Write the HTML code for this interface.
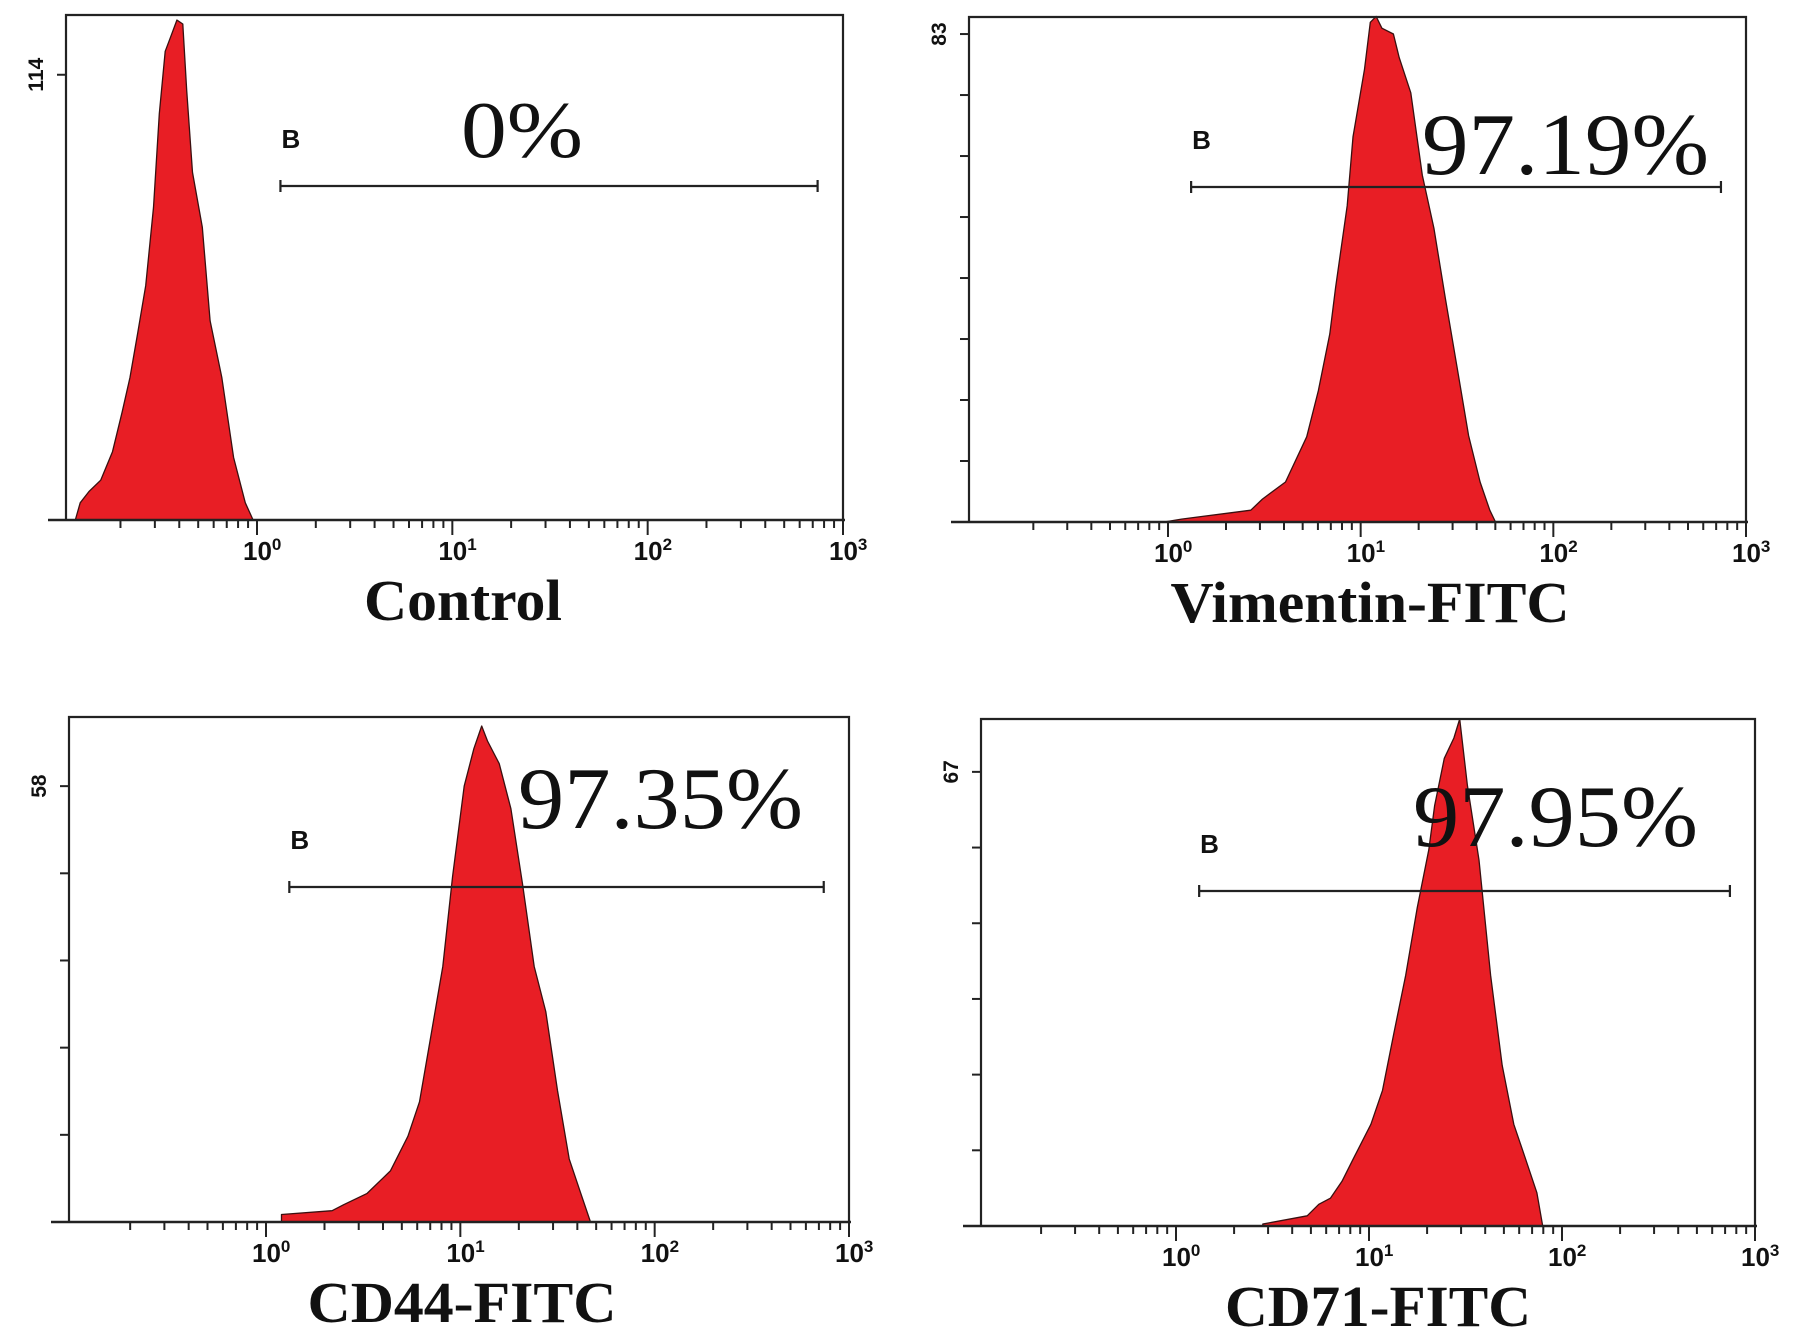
<!DOCTYPE html>
<html><head><meta charset="utf-8"><style>
html,body{margin:0;padding:0;background:#fff;}
svg{display:block;}
</style></head><body>
<svg id="fig" width="1795" height="1333" viewBox="0 0 1795 1333" xmlns="http://www.w3.org/2000/svg"></svg>
<script>
// Panel 1: Control
const controlLog = [-0.93,-0.905,-0.86,-0.80,-0.74,-0.69,-0.65,-0.61,-0.57,-0.53,-0.50,-0.47,-0.44,-0.41,-0.38,-0.36,-0.33,-0.28,-0.24,-0.18,-0.12,-0.06,-0.02];
const controlCounts = [0,4.4,7.3,10.2,17.5,27.7,36.5,48,60,80,104,120,124,128,127,110,89,75,51,36.5,16,4.4,0];
// Panel 2: Vimentin-FITC
const vimLog = [-0.02,0.07,0.19,0.31,0.43,0.49,0.61,0.72,0.78,0.84,0.87,0.93,0.96,1.02,1.05,1.08,1.11,1.17,1.20,1.26,1.32,1.38,1.44,1.50,1.56,1.62,1.67,1.70];
const vimCounts = [0,0.5,1,1.5,2,3.9,6.8,14.5,22.3,32,39.9,53.8,65.5,77,85,86,84,83,79,73,59,50,38,26.4,14.7,6.8,2,0];
// Panel 3: CD44-FITC
const cd44Log = [0.08,0.34,0.40,0.52,0.64,0.73,0.79,0.85,0.91,0.96,1.02,1.07,1.11,1.14,1.20,1.26,1.32,1.38,1.44,1.50,1.56,1.62,1.67];
const cd44Counts = [1,1.5,2.3,3.8,6.8,11.4,16,25,34,46,58,63,66,64,61,55,45,34,28,17.5,8.4,3.8,0];
// Panel 4: CD71-FITC
const cd71Log = [0.45,0.68,0.74,0.80,0.86,0.92,1.01,1.07,1.13,1.19,1.25,1.31,1.34,1.39,1.44,1.47,1.51,1.57,1.63,1.69,1.75,1.81,1.87,1.90];
const cd71Counts = [0.3,1.5,3.2,4.1,6.6,10,15,20,28.6,37,47,55.5,62,69,72,74.8,65,54,37,23.7,15,10,4.9,0];

const titles = ["Control","Vimentin-FITC","CD44-FITC","CD71-FITC"];
const percents = ["0%","97.19%","97.35%","97.95%"];
const yLabels = [114,83,58,67];
const yDivisions = [1,8,5,6];
const yMax = [129.3,85.9,67.2,74.8];
const decadeLabels = ["0","1","2","3"];
const gateLow = 0.12, gateHigh = 2.87;

const layout = [
 {L:66,T:15,R:843,B:520,p0:257,tw:198,pw:122,px:461,py:157,key:"control"},
 {L:969,T:17,R:1746,B:522,p0:1168,tw:399,pw:287,px:1422,py:174,key:"vimentin"},
 {L:69,T:717,R:849,B:1222,p0:266,tw:309,pw:285,px:518,py:828,key:"cd44"},
 {L:981,T:719,R:1755,B:1226,p0:1176,tw:306,pw:285,px:1413,py:846,key:"cd71"}
];
const series = [[controlLog,controlCounts],[vimLog,vimCounts],[cd44Log,cd44Counts],[cd71Log,cd71Counts]];
const svg = document.getElementById('fig');
const NS = "http://www.w3.org/2000/svg";
function mk(tag, attrs, parent){const e=document.createElementNS(NS,tag);for(const k in attrs)e.setAttribute(k,attrs[k]);(parent||svg).appendChild(e);return e;}

layout.forEach((p,i)=>{
  const g = mk('g',{});
  
  
  const dec = (p.R - p.p0)/3;
  const xs = l => p.R - (3-l)*dec;
  const ys = c => p.B - c/yMax[i]*(p.B - p.T);
  const [lx, cy] = series[i];
  let d = 'M'+xs(lx[0]).toFixed(1)+','+p.B;
  for(let k=0;k<lx.length;k++) d += ' L'+xs(lx[k]).toFixed(1)+','+ys(cy[k]).toFixed(1);
  d += ' L'+xs(lx[lx.length-1]).toFixed(1)+','+p.B+' Z';
  const h = mk('path',{d:d,fill:'#e81e25',stroke:'#3a1010','stroke-width':1.3,'stroke-linejoin':'round'},g);
  
  
  const fr = mk('path',{d:`M${p.L},${p.B} L${p.L},${p.T} L${p.R},${p.T} L${p.R},${p.B}`,fill:'none',stroke:'#222','stroke-width':2.2},g);
  
  
  const ax = mk('line',{x1:p.L-18,y1:p.B,x2:p.R+2,y2:p.B,stroke:'#222','stroke-width':2.5},g);
  
  
  for(let dd=-1; dd<3; dd++){
    for(let k=2;k<=9;k++){
      const x = xs(dd+Math.log10(k));
      mk('line',{x1:x,y1:p.B,x2:x,y2:p.B+8,stroke:'#222','stroke-width':2},g);
    }
  }
  for(let dd=0; dd<=3; dd++){
    const x = xs(dd);
    mk('line',{x1:x,y1:p.B,x2:x,y2:p.B+15,stroke:'#222','stroke-width':2},g);
    const t = mk('text',{x:x-14,y:p.B+40,'font-family':'Liberation Sans, sans-serif','font-size':26,'font-weight':'bold',fill:'#111'},g);
    
    
    t.textContent = '10';
    const s = mk('tspan',{dy:-10,'font-size':17},t);
    s.textContent = decadeLabels[dd];
  }
  for(let k=1;k<=yDivisions[i];k++){
    const y = ys(yLabels[i]*k/yDivisions[i]);
    mk('line',{x1:p.L-9,y1:y,x2:p.L,y2:y,stroke:'#222','stroke-width':2},g);
  }
  const yl = ys(yLabels[i]);
  const yt = mk('text',{x:0,y:0,transform:`translate(${p.L-23},${yl}) rotate(-90)`,'text-anchor':'middle','font-family':'Liberation Sans, sans-serif','font-size':21,'font-weight':'bold',fill:'#111'},g);
  
  
  yt.textContent = yLabels[i];
  const gy = (i===0)?186:(i===1?187:(i===2?887:891));
  const gx1 = xs(gateLow), gx2 = xs(gateHigh);
  const gate = mk('path',{d:`M${gx1},${gy-6} L${gx1},${gy+6} M${gx1},${gy} L${gx2},${gy} M${gx2},${gy-6} L${gx2},${gy+6}`,stroke:'#222','stroke-width':2.2,fill:'none'},g);
  
  
  const bl = mk('text',{x:gx1+1,y:gy-38,'font-family':'Liberation Sans, sans-serif','font-size':26,'font-weight':'bold',fill:'#111'},g);
  
  
  bl.textContent = 'B';
  const pt = mk('text',{x:p.px,y:p.py,'font-family':'Liberation Serif, serif','font-size':i===0?80:88,fill:'#111',textLength:p.pw,lengthAdjust:'spacingAndGlyphs'},g);
  
  
  pt.textContent = percents[i];
  const cx = (i%2===0)? (i===0?463:462) : (i===1?1370:1378);
  const ty = p.B + 100;
  const tt = mk('text',{x:cx,y:ty,'text-anchor':'middle','font-family':'Liberation Serif, serif','font-size':58,'font-weight':'bold',fill:'#111',textLength:p.tw,lengthAdjust:'spacingAndGlyphs'},g);
  
  
  tt.textContent = titles[i];
});
</script>
</body></html>
